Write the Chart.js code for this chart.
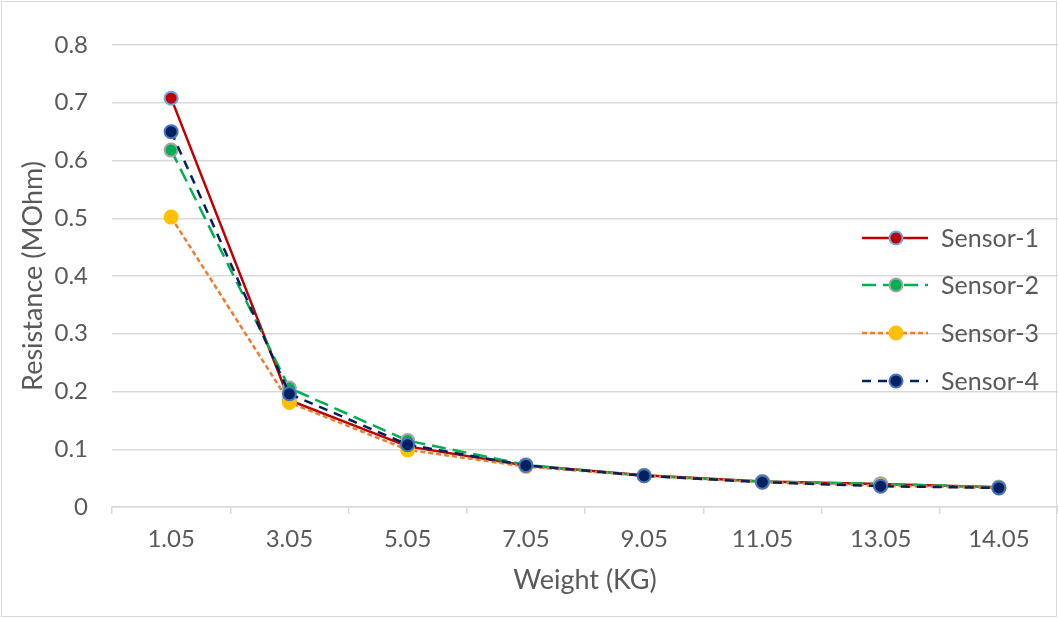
<!DOCTYPE html>
<html>
<head>
<meta charset="utf-8">
<script src="https://cdn.jsdelivr.net/npm/chart.js@4/dist/chart.umd.min.js"></script>
<style>
  html, body { margin: 0; padding: 0; background: #fff; }
  #wrap { width: 1058px; height: 618px; }
</style>
</head>
<body>
<div id="wrap"><canvas id="c" width="1058" height="618"></canvas></div>
<script>
// weights on the x axis (KG)
const weights = ["1.05", "3.05", "5.05", "7.05", "9.05", "11.05", "13.05", "14.05"]

// resistance readings (MOhm) per sensor
const sensor1 = [0.708, 0.185, 0.105, 0.072, 0.055, 0.044, 0.040, 0.034]
const sensor2 = [0.618, 0.206, 0.115, 0.073, 0.054, 0.044, 0.040, 0.034]
const sensor3 = [0.502, 0.181, 0.099, 0.070, 0.054, 0.043, 0.037, 0.033]
const sensor4 = [0.650, 0.196, 0.108, 0.072, 0.054, 0.043, 0.036, 0.033]

const yTicks = [0, 0.1, 0.2, 0.3, 0.4, 0.5, 0.6, 0.7, 0.8]

const textColor = '#595959'
const gridColor = '#d9d9d9'
const font = "Lato, 'Open Sans', sans-serif"

function makeSet(label, data, line, dash, fill, border, order) {
    return {
        label: label,
        data: data,
        order: order,
        borderColor: line,
        borderWidth: 2.5,
        borderDash: dash,
        backgroundColor: fill,
        pointBackgroundColor: fill,
        pointBorderColor: border,
        pointBorderWidth: 2,
        pointRadius: 6.5,
        pointHoverRadius: 6.5,
        tension: 0,
        // legend sample drawing info
        legendDash: dash
    }
}

// last sensor sits on top
const datasets = [
    makeSet('Sensor-1', sensor1, '#c00000', [], '#c00000', '#6fa8dc', 4),
    makeSet('Sensor-2', sensor2, '#00b050', [14, 7], '#00b050', '#a5a5a5', 3),
    makeSet('Sensor-3', sensor3, '#ed7d31', [5, 3], '#ffc000', '#ffc000', 2),
    makeSet('Sensor-4', sensor4, '#002060', [9, 7], '#002060', '#4472c4', 1)
]

// white page + thin outer frame
const frame = {
    id: 'frame',
    beforeDraw(chart) {
        const ctx = chart.ctx
        ctx.save()
        ctx.fillStyle = '#fff'
        ctx.fillRect(0, 0, chart.width, chart.height)
        ctx.strokeStyle = gridColor
        ctx.lineWidth = 1
        ctx.strokeRect(1.5, 1.5, chart.width - 3, chart.height - 3)
        ctx.restore()
    }
}

// legend drawn inside the plot, on the right
const innerLegend = {
    id: 'innerLegend',
    afterDraw(chart) {
        const ctx = chart.ctx
        const x0 = 862, x1 = 928, xm = 896, xt = 941
        const ys = [238, 285, 333, 381]
        ctx.save()
        chart.data.datasets.forEach((ds, i) => {
            const y = ys[i]
            ctx.beginPath()
            ctx.setLineDash(ds.legendDash)
            ctx.strokeStyle = ds.borderColor
            ctx.lineWidth = ds.borderWidth
            ctx.moveTo(x0, y)
            ctx.lineTo(x1, y)
            ctx.stroke()
            ctx.setLineDash([])
            ctx.beginPath()
            ctx.arc(xm, y, ds.pointRadius, 0, Math.PI * 2)
            ctx.fillStyle = ds.pointBackgroundColor
            ctx.fill()
            ctx.lineWidth = ds.pointBorderWidth
            ctx.strokeStyle = ds.pointBorderColor
            ctx.stroke()
            ctx.fillStyle = textColor
            ctx.font = "25px " + font
            ctx.textBaseline = 'middle'
            ctx.fillText(ds.label, xt, y + 1)
        })
        ctx.restore()
    }
}

new Chart(document.getElementById('c'), {
    type: 'line',
    data: {
        labels: weights,
        datasets: datasets
    },
    options: {
        responsive: false,
        animation: false,
        layout: { autoPadding: false, padding: { top: 45, right: 0, left: 0, bottom: 0 } },
        plugins: {
            legend: { display: false },
            tooltip: { enabled: false }
        },
        scales: {
            x: {
                offset: true,
                afterFit(axis) {
                    axis.height = 111
                },
                grid: {
                    offset: true,
                    drawOnChartArea: false,
                    drawTicks: true,
                    tickLength: 7,
                    color: gridColor,
                    lineWidth: 1.5
                },
                border: { color: gridColor, width: 1.5 },
                ticks: { color: textColor, font: { family: font, size: 24 }, padding: 11 },
                title: {
                    display: true,
                    text: 'Weight (KG)',
                    color: textColor,
                    font: { family: font, size: 27 },
                    padding: { top: 4, bottom: 22 }
                }
            },
            y: {
                min: 0,
                max: 0.8,
                afterBuildTicks(axis) {
                    axis.ticks = yTicks.map(v => ({ value: v }))
                },
                afterFit(axis) {
                    axis.width = 112
                },
                grid: {
                    color: gridColor,
                    lineWidth: 1.5,
                    drawTicks: false
                },
                border: { display: false },
                ticks: {
                    color: textColor,
                    font: { family: font, size: 24 },
                    padding: 24,
                    callback: v => String(Math.round(v * 10) / 10)
                },
                title: {
                    display: true,
                    text: 'Resistance (MOhm)',
                    color: textColor,
                    font: { family: font, size: 27 },
                    padding: { top: 17, bottom: 4 }
                }
            }
        }
    },
    plugins: [frame, innerLegend]
})
</script>
</body>
</html>
